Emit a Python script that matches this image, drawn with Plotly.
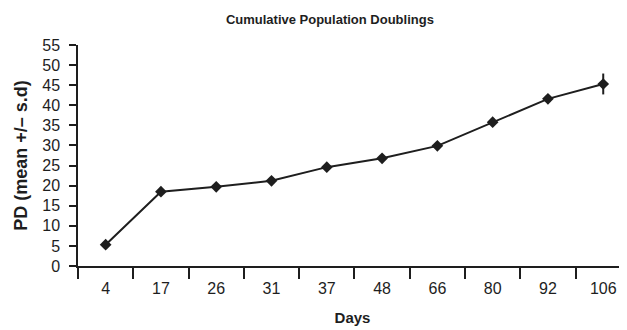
import plotly.graph_objects as go

days = ["4", "17", "26", "31", "37", "48", "66", "80", "92", "106"]
pd_mean = [5.3, 18.5, 19.7, 21.2, 24.6, 26.8, 29.9, 35.8, 41.6, 45.3]
pd_sd = [0, 0, 0, 0, 0, 0, 0, 0, 0, 2.6]

ink = "#1e1e1e"
font = "Liberation Sans, Arial, sans-serif"

# the page keeps the browser's 8px body margin, so the figure is 8px smaller
fig = go.Figure()
fig.add_trace(
    go.Scatter(
        x=days,
        y=pd_mean,
        mode="lines+markers",
        line=dict(color=ink, width=2),
        marker=dict(symbol="diamond", size=9, color=ink),
        error_y=dict(type="data", array=pd_sd, visible=True, color=ink, thickness=2, width=0),
        showlegend=False,
    )
)

fig.update_layout(
    width=619,
    height=322,
    margin=dict(l=70, r=0, t=37, b=64, autoexpand=False),
    paper_bgcolor="white",
    plot_bgcolor="white",
    font=dict(family=font, size=16, color=ink),
    title=dict(
        text="<b>Cumulative Population Doublings</b>",
        x=0.52,
        xanchor="center",
        y=0.963,
        yanchor="middle",
        font=dict(size=13),
    ),
)
fig.update_xaxes(
    type="category",
    range=[-0.5, 9.43],
    automargin=False,
    showline=True,
    linecolor=ink,
    linewidth=1.5,
    ticks="outside",
    tickson="boundaries",
    ticklen=11,
    tickwidth=1.5,
    tickcolor=ink,
    ticklabelstandoff=7,
    showgrid=False,
    title=dict(text="<b>Days</b>", standoff=17, font=dict(size=15)),
)
fig.update_yaxes(
    range=[0, 55],
    dtick=5,
    automargin=False,
    showline=True,
    linecolor=ink,
    linewidth=1.5,
    ticks="outside",
    ticklen=7,
    tickwidth=1.5,
    tickcolor=ink,
    ticklabelstandoff=6,
    showgrid=False,
    zeroline=False,
    title=dict(text="<b>PD (mean +/\u2013 s.d)</b>", standoff=10, font=dict(size=18)),
)

fig.write_html("out.html")
